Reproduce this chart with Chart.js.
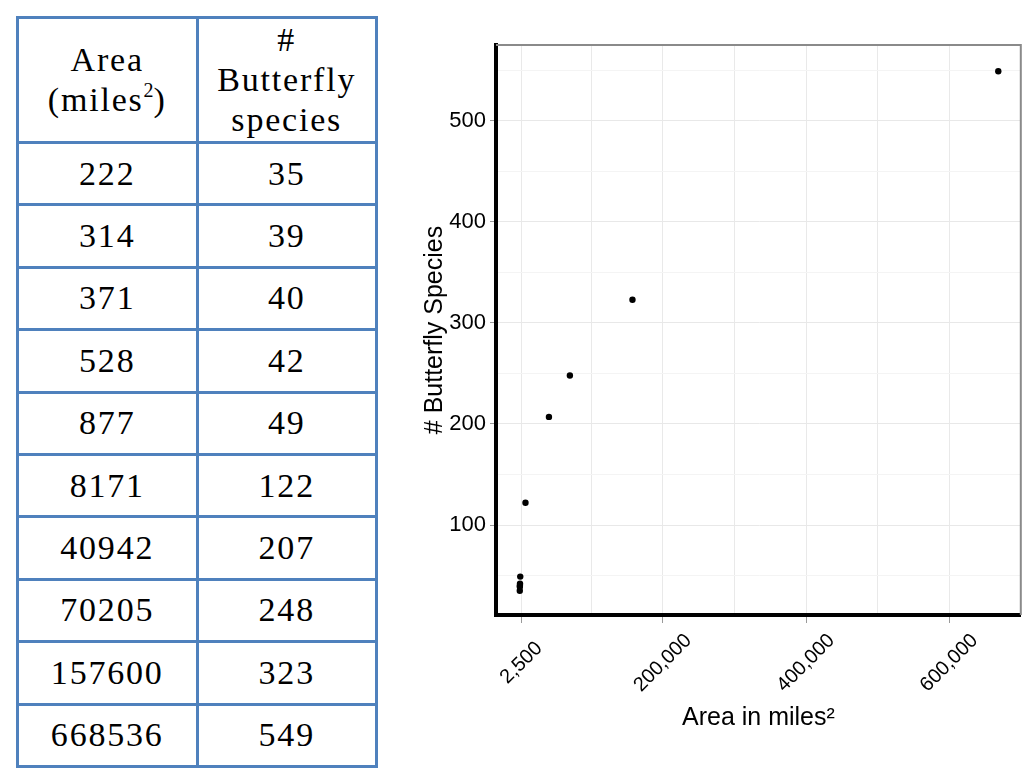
<!DOCTYPE html>
<html>
<head>
<meta charset="utf-8">
<script src="https://cdn.jsdelivr.net/npm/chart.js@4"></script>
<style>
  html, body { margin:0; padding:0; background:#fff; }
  body { width:1024px; height:768px; position:relative; overflow:hidden; }
  #tbl { position:absolute; left:16px; top:16px; width:362px; table-layout:fixed;
         border-collapse:collapse; font-family:'Liberation Serif','Times New Roman',serif;
         font-size:34px; letter-spacing:1.8px; color:#000; }
  #tbl td { border:3px solid #4f81bd; text-align:center; vertical-align:middle; padding:0; }
  #tbl tr.hdr td { height:122px; line-height:40px; }
  #tbl tr.row td { height:59.4px; line-height:40px; }
  #tbl sup { font-size:20px; line-height:0; vertical-align:14px; letter-spacing:0; }
  #wrap { position:absolute; left:390px; top:0; width:634px; height:768px; }
</style>
</head>
<body>
<table id="tbl"></table>
<div id="wrap"><canvas id="c"></canvas></div>
<script>
const areas   = [222, 314, 371, 528, 877, 8171, 40942, 70205, 157600, 668536];
const species = [35, 39, 40, 42, 49, 122, 207, 248, 323, 549];
const xTickValues = [2500, 100000, 200000, 300000, 400000, 500000, 600000, 700000];
const xTickLabels = ['2,500', '', '200,000', '', '400,000', '', '600,000', ''];
const yTickValues = [50, 100, 150, 200, 250, 300, 350, 400, 450, 500, 550];
const yTickLabels = ['', '100', '', '200', '', '300', '', '400', '', '500', ''];

// table
const tbl = document.getElementById('tbl');
let html = '<tr class="hdr"><td>Area<br>(miles<sup>2</sup>)</td><td>#<br>Butterfly<br>species</td></tr>';
for (let i = 0; i < areas.length; i++) {
  html += '<tr class="row"><td>' + areas[i] + '</td><td>' + species[i] + '</td></tr>';
}
tbl.innerHTML = html;

const FONT = "'Liberation Sans', Arial, Helvetica, sans-serif";

const framePlugin = {
  id: 'frame',
  beforeDatasetsDraw(chart) {
    const {ctx, chartArea: a} = chart;
    ctx.save();
    ctx.strokeStyle = '#8a8a8a';
    ctx.lineWidth = 2;
    ctx.beginPath();
    ctx.moveTo(a.left, a.top);
    ctx.lineTo(a.right, a.top);
    ctx.lineTo(a.right, a.bottom);
    ctx.stroke();
    ctx.restore();
  },
  afterDraw(chart) {
    const {ctx} = chart;
    const xs = chart.scales.x;
    ctx.save();
    ctx.font = '20px ' + FONT;
    ctx.fillStyle = '#000';
    ctx.textAlign = 'center';
    ctx.textBaseline = 'middle';
    xTickValues.forEach((v, i) => {
      const lab = xTickLabels[i];
      if (!lab) return;
      const px = xs.getPixelForValue(v);
      ctx.save();
      ctx.translate(px, xs.top + 48);
      ctx.rotate(-Math.PI / 4);
      ctx.fillText(lab, 0, 0);
      ctx.restore();
    });
    ctx.restore();
  }
};

new Chart(document.getElementById('c'), {
  type: 'scatter',
  data: {
    datasets: [{
      data: areas.map((a, i) => ({x: a, y: species[i]})),
      backgroundColor: '#000',
      borderColor: '#000',
      borderWidth: 0,
      pointRadius: 3.2,
      pointHoverRadius: 3.2
    }]
  },
  options: {
    responsive: true,
    maintainAspectRatio: false,
    animation: false,
    layout: { padding: { left: 26, right: 3, top: 45, bottom: 31 } },
    plugins: { legend: { display: false }, tooltip: { enabled: false } },
    scales: {
      x: {
        type: 'linear',
        position: 'bottom',
        min: -33000,
        max: 700000,
        afterBuildTicks: s => { s.ticks = xTickValues.map(v => ({value: v})); },
        afterFit: s => { s.height = 122; },
        ticks: { display: false },
        grid: {
          color: '#e9e9e9',
          lineWidth: 1,
          drawTicks: true,
          tickLength: 8,
          tickColor: ctx => (xTickLabels[ctx.index] ? '#9a9a9a' : 'rgba(0,0,0,0)')
        },
        border: { color: '#000', width: 4 },
        title: {
          display: true,
          text: 'Area in miles²',
          color: '#000',
          font: { size: 25, family: FONT },
          padding: { top: 4, bottom: 4 }
        }
      },
      y: {
        type: 'linear',
        min: 11,
        max: 575,
        afterBuildTicks: s => { s.ticks = yTickValues.map(v => ({value: v})); },
        afterFit: s => { s.width = 80; },
        ticks: {
          autoSkip: false,
          padding: 4,
          color: '#000',
          font: { size: 22, family: FONT },
          callback: (v, i) => yTickLabels[i]
        },
        grid: {
          color: ctx => (yTickLabels[ctx.index] ? '#e8e8e8' : '#f4f4f4'),
          lineWidth: 1,
          tickLength: 6,
          tickColor: ctx => (yTickLabels[ctx.index] ? '#9a9a9a' : 'rgba(0,0,0,0)')
        },
        border: { color: '#000', width: 4 },
        title: {
          display: true,
          text: '# Butterfly Species',
          color: '#000',
          font: { size: 25, family: FONT },
          padding: { top: 4, bottom: 4 }
        }
      }
    }
  },
  plugins: [framePlugin]
});
</script>
</body>
</html>
